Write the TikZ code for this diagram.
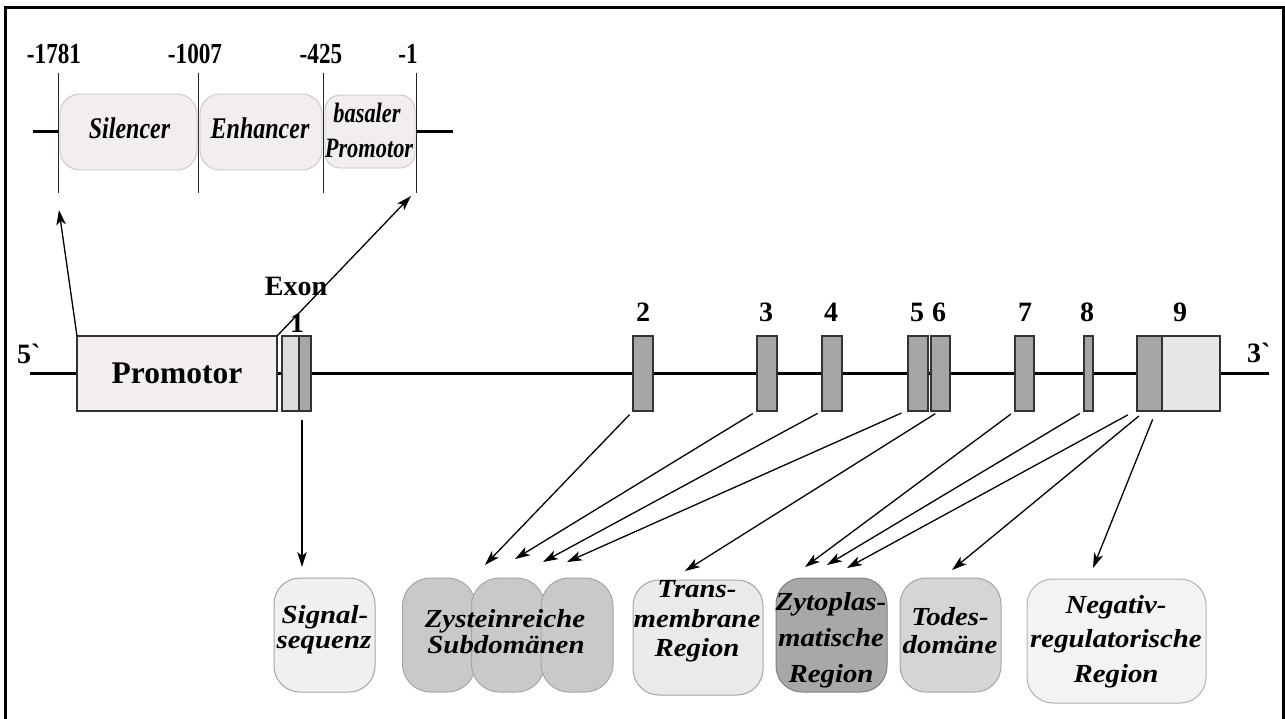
\documentclass[tikz,border=0pt]{standalone}
\usepackage{fontspec}
\setmainfont{Liberation Serif}
\newfontfamily\topf{Liberation Serif}[FakeStretch=0.8]
\newfontfamily\botf{Liberation Serif}[FakeStretch=1.11]
\newfontfamily\genf{Liberation Serif}[Ligatures=TeXOff]
\usetikzlibrary{arrows.meta,calc}
\definecolor{topfill}{RGB}{242,238,238}
\definecolor{topline}{RGB}{200,194,194}
\definecolor{promfill}{RGB}{243,239,240}
\definecolor{exdark}{RGB}{166,166,166}
\definecolor{exlight}{RGB}{220,220,220}
\definecolor{exlight9}{RGB}{230,230,230}
\definecolor{sigfill}{RGB}{240,240,240}
\definecolor{zysfill}{RGB}{201,201,201}
\definecolor{transfill}{RGB}{234,234,234}
\definecolor{zytofill}{RGB}{168,168,168}
\definecolor{todesfill}{RGB}{213,213,213}
\definecolor{negfill}{RGB}{243,243,243}
\definecolor{bline}{RGB}{165,165,165}
\tikzset{
  tbox/.style={draw=topline, fill=topfill, rounded corners=20pt, line width=0.8pt, inner sep=0pt, outer sep=0pt},
  ttext/.style={font=\topf\bfseries\itshape\fontsize{30}{30}\selectfont, anchor=base, inner sep=0pt},
  tnum/.style={font=\topf\bfseries\fontsize{29}{29}\selectfont, anchor=base, inner sep=0pt},
  gtext/.style={font=\genf\bfseries\fontsize{28}{28}\selectfont, anchor=base, inner sep=0pt},
  exon/.style={draw=black!80, line width=1.3pt, fill=exdark, inner sep=0pt, outer sep=0pt, minimum height=75pt},
  bbox/.style={draw=bline, line width=1pt, rounded corners=26pt, inner sep=0pt, outer sep=0pt, minimum height=114pt},
  btext/.style={font=\botf\bfseries\itshape\fontsize{26}{26}\selectfont, anchor=base, inner sep=0pt},
  arr/.style={-{Stealth[length=15pt,width=9.5pt,inset=4pt]}, line width=1.3pt},
  vline/.style={line width=1pt, black!85},
}
\begin{document}
\begin{tikzpicture}[x=1pt,y=-1pt]
\useasboundingbox (0,0) rectangle (1285,718);
\fill[white] (0,0) rectangle (1285,718);
\draw[line width=3pt] (5.5,722) -- (5.5,7) -- (1283,7) -- (1283,722);

% ---------- top inset ----------
\coordinate (v1t) at (58,73);  \coordinate (v1b) at (58,193);
\coordinate (v2t) at (198,73); \coordinate (v2b) at (198,193);
\coordinate (v3t) at (323,73); \coordinate (v3b) at (323,193);
\coordinate (v4t) at (416,73); \coordinate (v4b) at (416,193);
\coordinate (hl) at (33,131); \coordinate (hr) at (453,131);
\coordinate (h1) at (58,131); \coordinate (h4) at (416,131);
\draw[line width=3pt] (hl) -- (h1);
\draw[line width=3pt] (h4) -- (hr);

\node[tbox, minimum width=137pt, minimum height=76pt] (sil) at (128.5,132) {};
\node[tbox, minimum width=122pt, minimum height=76pt] (enh) at (261,132) {};
\node[tbox, rounded corners=15pt, minimum width=90pt, minimum height=73pt] (bas) at (370,131.5) {};

\draw[vline] (v1t) -- (v1b);
\draw[vline] (v2t) -- (v2b);
\draw[vline] (v3t) -- (v3b);
\draw[vline] (v4t) -- (v4b);

\node[tnum] (n1) at (54,63) {-1781};
\node[tnum] (n2) at (195,63) {-1007};
\node[tnum] (n3) at (321,63) {-425};
\node[tnum] (n4) at (408,63) {-1};

\node[ttext] (silT) at (129.5,138) {Silencer};
\node[ttext] (enhT) at (260,138) {Enhancer};
\node[ttext, font=\topf\bfseries\itshape\fontsize{28}{28}\selectfont] (basT1) at (367,122) {basaler};
\node[ttext, font=\topf\bfseries\itshape\fontsize{28}{28}\selectfont] (basT2) at (369,157) {Promotor};

% ---------- gene ----------
\coordinate (g5) at (30,373);
\coordinate (g3) at (1269,373);
\draw[line width=3pt] (g5) -- (g3);

\node[exon, fill=promfill, minimum width=200pt, font=\bfseries\fontsize{31.5}{31.5}\selectfont] (prom) at (177,373.5) {Promotor};
\node[exon, fill=exlight, minimum width=17pt] (e1a) at (290.5,373.5) {};
\node[exon, minimum width=12pt] (e1b) at (305,373.5) {};
\node[exon, minimum width=20pt] (e2) at (643,373.5) {};
\node[exon, minimum width=20pt] (e3) at (767,373.5) {};
\node[exon, minimum width=20pt] (e4) at (832,373.5) {};
\node[exon, minimum width=20pt] (e5) at (918,373.5) {};
\node[exon, minimum width=19pt] (e6) at (940.5,373.5) {};
\node[exon, minimum width=19pt] (e7) at (1024.5,373.5) {};
\node[exon, minimum width=9pt] (e8) at (1088.5,373.5) {};
\node[exon, minimum width=25pt] (e9a) at (1149.5,373.5) {};
\node[exon, fill=exlight9, minimum width=58pt] (e9b) at (1191,373.5) {};

\node[gtext, anchor=base west] (l5) at (17,363) {5`};
\node[gtext, anchor=base west] (l3) at (1247,362) {3`};
\node[gtext] (lex) at (296,295) {Exon};
\node[gtext] (l1) at (297,332) {1};
\node[gtext] (l2) at (643,321) {2};
\node[gtext] (l3n) at (766,321) {3};
\node[gtext] (l4) at (831,321) {4};
\node[gtext] (l5n) at (917,321) {5};
\node[gtext] (l6) at (939,321) {6};
\node[gtext] (l7) at (1025,321) {7};
\node[gtext] (l8) at (1087,321) {8};
\node[gtext] (l9) at (1180,321) {9};

% top arrows
\draw[arr] (prom.north west) -- ($(v1b)+(1,17)$);
\draw[arr] (prom.north east) -- ($(v4b)+(-5,3)$);

% ---------- bottom boxes ----------
\node[bbox, fill=sigfill, minimum width=101pt] (sig) at (324.5,635) {};
\node[bbox, fill=zysfill, rounded corners=28pt, minimum width=73pt] (zA) at (439,635) {};
\node[bbox, fill=zysfill, rounded corners=28pt, minimum width=73pt] (zB) at (508,635) {};
\node[bbox, fill=zysfill, rounded corners=28pt, minimum width=72pt] (zC) at (577,635) {};
\node[bbox, fill=transfill, minimum width=130pt, minimum height=115pt] (trans) at (698,637.5) {};
\node[bbox, fill=zytofill, draw=black!50, minimum width=111pt] (zyto) at (831.5,635) {};
\node[bbox, fill=todesfill, minimum width=101pt] (todes) at (950.5,635) {};
\node[bbox, fill=negfill, draw=black!30, minimum width=179pt, minimum height=124pt] (neg) at (1116.5,641) {};

\node[btext] (sigT1) at (325,623) {Signal-};
\node[btext] (sigT2) at (324,648) {sequenz};
\node[btext] (zysT1) at (505,627) {Zysteinreiche};
\node[btext] (zysT2) at (506,653) {Subdomänen};
\node[btext] (trT1) at (697,597) {Trans-};
\node[btext] (trT2) at (697,627) {membrane};
\node[btext] (trT3) at (697,656) {Region};
\node[btext] (zyT1) at (831,610) {Zytoplas-};
\node[btext] (zyT2) at (831,646) {matische};
\node[btext] (zyT3) at (831,682) {Region};
\node[btext] (toT1) at (950,625) {Todes-};
\node[btext] (toT2) at (950,653) {domäne};
\node[btext] (neT1) at (1116,613) {Negativ-};
\node[btext] (neT2) at (1116,647) {regulatorische};
\node[btext] (neT3) at (1116,682) {Region};

% bottom arrows
\draw[arr, shorten <=9pt] ([xshift=-3pt]e1b.south) -- ($(sig.north)+(-22.5,-11)$);
\draw[arr, shorten <=5pt] (e2.south west) -- ($(zB.north)+(-23,-13)$);
\draw[arr, shorten <=5pt] (e3.south west) -- ($(zB.north)+(7,-19)$);
\draw[arr, shorten <=5pt] (e4.south west) -- ($(zC.north)+(-34,-16)$);
\draw[arr, shorten <=5pt] ([xshift=-2pt]e5.south west) -- ($(zC.north)+(-10,-16)$);
\draw[arr, shorten <=5pt] ([xshift=-1pt]e6.south) -- ($(trans.north)+(-13,-9)$);
\draw[arr, shorten <=5pt] (e7.south west) -- ($(zyto.north)+(-26.5,-11)$);
\draw[arr, shorten <=5pt] (e8.south west) -- ($(zyto.north)+(-4.5,-13)$);
\draw[arr, shorten <=8pt] ([xshift=-2pt]e9a.south west) -- ($(zyto.north)+(15.5,-10)$);
\draw[arr, shorten <=8pt] ([xshift=-4.5pt]e9a.south) -- ($(todes.north)+(1.5,-8)$);
\draw[arr, shorten <=9pt] ([xshift=6.5pt]e9a.south) -- ($(neg.north)+(-23.5,-11)$);
\end{tikzpicture}
\end{document}
